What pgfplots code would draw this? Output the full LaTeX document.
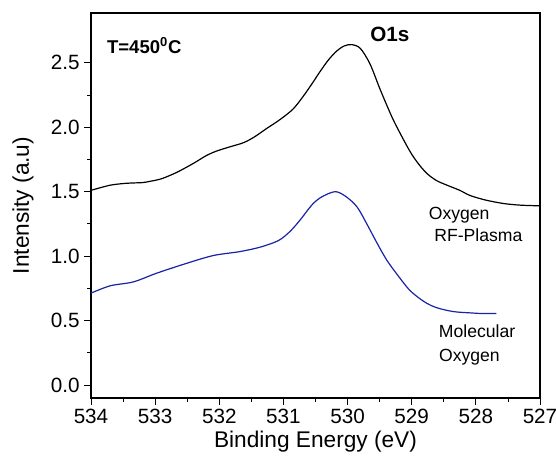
\documentclass[border=0pt]{standalone}
\usepackage{pgfplots}
\pgfplotsset{compat=1.18}
\usepackage{fontspec}
\setmainfont{Liberation Sans}
\definecolor{mblue}{RGB}{25,35,165}
\begin{document}
\begin{tikzpicture}
\begin{axis}[
  scale only axis,
  width=336.75pt, height=288.75pt,
  x dir=reverse,
  xmin=527, xmax=534,
  ymin=-0.1, ymax=2.885,
  xtick={527,528,...,534},
  ytick={0,0.5,...,2.5},
  minor x tick num=1,
  minor y tick num=1,
  tick align=outside,
  xtick pos=bottom, ytick pos=left,
  major tick length=5pt, minor tick length=3pt,
  tick style={black, line width=0.6pt},
  axis line style={line width=0.8pt},
  yticklabel style={/pgf/number format/fixed,/pgf/number format/fixed zerofill,/pgf/number format/precision=1},
  xticklabel style={/pgf/number format/1000 sep={}},
  /pgf/number format/assume math mode=true,
  tick label style={font=\fontsize{15.5}{17}\selectfont},
  label style={font=\fontsize{17}{19}\selectfont},
  xlabel={Binding Energy (eV)},
  ylabel={Intensity (a.u)},
  xlabel style={at={(axis description cs:0.5,-0.1135)},anchor=center},
  ylabel style={at={(axis description cs:-0.1514,0.5)},anchor=center},
  clip=false,
]
\addplot[black, line width=0.9pt, smooth] coordinates {
(534.00,1.51) (533.70,1.55) (533.44,1.565) (533.20,1.57) (533.08,1.58) (532.90,1.60) (532.66,1.65)
(532.40,1.72) (532.20,1.78) (532.04,1.815) (531.85,1.845) (531.62,1.88) (531.45,1.925)
(531.26,1.99) (531.05,2.06) (530.85,2.14) (530.69,2.24) (530.55,2.34) (530.43,2.43)
(530.30,2.52) (530.17,2.59) (530.05,2.63) (529.93,2.64) (529.80,2.61) (529.65,2.49)
(529.49,2.29) (529.30,2.07) (529.13,1.905) (529.00,1.79) (528.87,1.70) (528.75,1.635)
(528.61,1.585) (528.45,1.55) (528.25,1.51) (528.09,1.47) (527.85,1.435) (527.57,1.408)
(527.30,1.395) (527.00,1.39)
};
\addplot[mblue, line width=0.9pt, smooth] coordinates {
(534.00,0.713) (533.70,0.77) (533.34,0.80) (532.98,0.867) (532.51,0.944) (532.09,1.005)
(531.68,1.035) (531.36,1.07) (531.08,1.12) (530.90,1.19) (530.74,1.28) (530.55,1.40)
(530.40,1.46) (530.19,1.50) (530.02,1.46) (529.85,1.38) (529.70,1.25) (529.55,1.11)
(529.39,0.97) (529.20,0.84) (529.02,0.73) (528.80,0.645) (528.61,0.60) (528.35,0.57)
(528.09,0.56) (527.90,0.555) (527.68,0.555)
};
\node[font=\bfseries\fontsize{13.9}{15}\selectfont] at (axis cs:533.17,2.636) {T=450\textsuperscript{0}C};
\node[font=\bfseries\fontsize{15.5}{17}\selectfont] at (axis cs:529.34,2.72) {O1s};
\node[font=\fontsize{13.2}{15}\selectfont] at (axis cs:528.26,1.32) {Oxygen};
\node[font=\fontsize{13.2}{15}\selectfont] at (axis cs:527.96,1.16) {RF-Plasma};
\node[font=\fontsize{13.2}{15}\selectfont] at (axis cs:527.98,0.42) {Molecular};
\node[font=\fontsize{13.2}{15}\selectfont] at (axis cs:528.10,0.22) {Oxygen};
\end{axis}
\pgfresetboundingbox
\path[use as bounding box] (current axis.south west) ++(-68.25pt,-44.25pt) rectangle ++(417pt,342.75pt);
\end{tikzpicture}
\end{document}
